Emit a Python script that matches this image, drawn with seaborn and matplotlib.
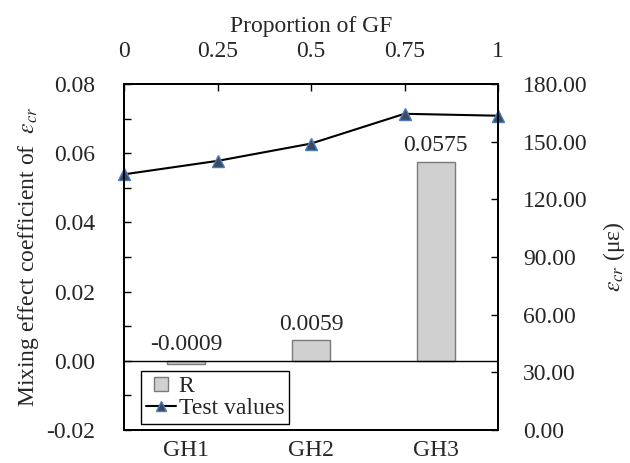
import numpy as np
import pandas as pd
import matplotlib
matplotlib.use("Agg")
import matplotlib.pyplot as plt
import matplotlib.ticker as mticker
from matplotlib.lines import Line2D
import seaborn as sns

# Mixing effect coefficient R for each hybrid group
groups = ["GH1", "GH2", "GH3"]
r_values = [-0.0009, 0.0059, 0.0575]
r_labels = ["-0.0009", "0.0059", "0.0575"]

# Cracking strain test values against GF proportion
gf_proportion = [0, 0.25, 0.5, 0.75, 1]
strain_values = [133.0, 140.0, 149.0, 164.5, 163.5]
top_ticks = [0, 0.25, 0.5, 0.75, 1]
top_tick_labels = ["0", "0.25", "0.5", "0.75", "1"]

sns.set_theme(style="white")
plt.rcParams["font.family"] = ["Liberation Serif", "DejaVu Serif"]
plt.rcParams["mathtext.fontset"] = "stix"

FS = 17
bar_color = "#d0d0d0"
bar_edge = "#7a7a7a"
mk_face = "#3b4a5e"
mk_edge = "#4a7cc0"

fig = plt.figure(figsize=(6.3, 4.63), dpi=100)
ax = fig.add_axes([124 / 630, 33 / 463, 374 / 630, 346 / 463])

df_bar = pd.DataFrame({"group": groups, "R": r_values})
sns.barplot(data=df_bar, x="group", y="R", ax=ax, color=bar_color,
            edgecolor=bar_edge, linewidth=1.0, width=0.305, saturation=1)
ax.axhline(0, color="black", lw=1.0, zorder=3)
for i, (v, s) in enumerate(zip(r_values, r_labels)):
    ax.annotate(s, (i, max(v, 0)), xytext=(0, 4), textcoords="offset points",
                ha="center", va="bottom", fontsize=FS)

ax.set_xlim(-0.5, 2.5)
ax.set_ylim(-0.02, 0.08)
ax.yaxis.set_major_locator(mticker.MultipleLocator(0.02))
ax.yaxis.set_minor_locator(mticker.MultipleLocator(0.01))
ax.yaxis.set_major_formatter(mticker.FormatStrFormatter("%.2f"))
ax.set_xlabel("")
ax.set_ylabel(r"Mixing effect coefficient of  $\varepsilon_{cr}$", fontsize=FS)
ax.yaxis.set_label_coords(-0.222, 0.5)
ax.tick_params(axis="y", which="both", direction="in", length=5, width=1,
               labelsize=FS, left=True, color="black", pad=21)
ax.tick_params(axis="x", length=0, labelsize=FS, pad=7)

# Right axis: cracking strain
ax2 = ax.twinx()
ax2.set_ylim(0, 180)
ax2.yaxis.set_major_locator(mticker.MultipleLocator(30))
ax2.yaxis.set_major_formatter(mticker.FormatStrFormatter("%.2f"))
ax2.set_ylabel(r"$\varepsilon_{cr}$ (με)", fontsize=FS, rotation=90)
ax2.yaxis.set_label_coords(1.276, 0.5)
ax2.tick_params(axis="y", direction="in", length=5, width=1, labelsize=FS,
                right=True, color="black", pad=18)

# Top axis: GF proportion, sharing the right-hand y scale
ax3 = ax2.twiny()
ax3.set_xlim(0, 1)
ax3.set_xticks(top_ticks)
ax3.set_xticklabels(top_tick_labels)
ax3.set_xlabel("Proportion of GF", fontsize=FS, labelpad=6)
ax3.tick_params(axis="x", direction="in", length=5, width=1, labelsize=FS,
                top=True, color="black", pad=16)

df_line = pd.DataFrame({"p": gf_proportion, "strain": strain_values})
sns.lineplot(data=df_line, x="p", y="strain", ax=ax3, color="black", lw=1.5,
             marker="^", markersize=8, markerfacecolor=mk_face,
             markeredgecolor=mk_edge, markeredgewidth=1.0, clip_on=False,
             legend=False)
ax3.set_ylim(0, 180)
ax3.set_ylabel("")

for a in (ax, ax2, ax3):
    for sp in a.spines.values():
        sp.set_color("black")
        sp.set_linewidth(1.3)
    a.grid(False)

handles = [Line2D([0], [0], linestyle="none", marker="s", markersize=9.5,
                  markerfacecolor=bar_color, markeredgecolor=bar_edge,
                  markeredgewidth=1.0, label="R"),
           Line2D([0], [0], color="black", lw=1.5, marker="^", markersize=7,
                  markerfacecolor=mk_face, markeredgecolor=mk_edge,
                  label="Test values")]
leg = ax3.legend(handles=handles, loc="upper left",
                 bbox_to_anchor=(141 / 630, 1 - 371 / 463),
                 bbox_transform=fig.transFigure, fontsize=FS,
                 frameon=True, fancybox=False, framealpha=1,
                 edgecolor="black", borderpad=0.2, labelspacing=0.0,
                 handlelength=1.3, handletextpad=0.1, borderaxespad=0)
leg.get_frame().set_linewidth(1.0)

fig.savefig("out.png", dpi=100)
